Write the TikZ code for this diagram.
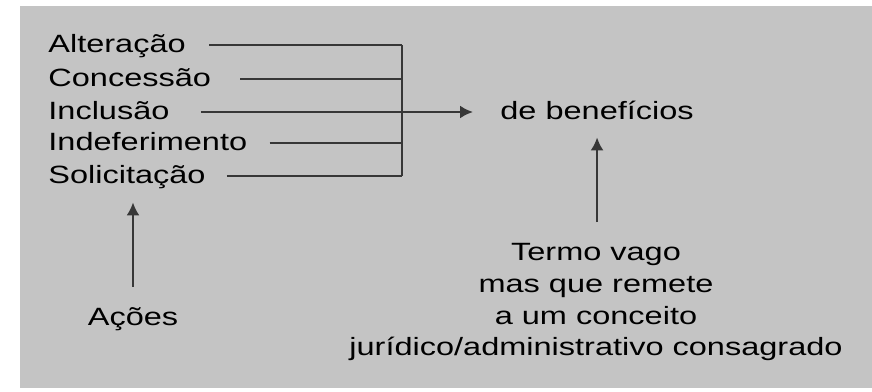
\documentclass[tikz,border=0pt]{standalone}
\usepackage{fontspec}
\setmainfont[FakeStretch=1.3]{Liberation Sans}
\usetikzlibrary{positioning,arrows.meta}
\tikzstyle{diagram} = [x = .5pt, y = -.5pt]
\definecolor{panelColor}{RGB}{196,196,196}
\definecolor{lineColor}{RGB}{55,55,55}
\tikzstyle{wordStyle} = [font=\fontsize{12.5}{15.85}\selectfont, inner sep=0pt, text height=7pt, text depth=0pt]
\tikzstyle{actionStyle} = [wordStyle, anchor=west]
\tikzstyle{noteStyle} = [font=\fontsize{12.5}{15.85}\selectfont, inner sep=0pt, align=center, anchor=north]
\tikzstyle{linkLine} = [color=lineColor, line width=1.1pt]
\tikzstyle{linkArrow} = [linkLine, -{Latex[length=6.5pt,width=6.5pt]}]
\newcommand{\actionLink}[2]{\draw [linkLine, shorten <=#2] (#1.east) -- (#1 -| bar);}

\begin{document}
\begin{tikzpicture}[diagram]
  \useasboundingbox (0,0) rectangle (872,391);
  \fill [panelColor] (20,6) rectangle (872,388);
  % actions
  \node [actionStyle] (alt) at (48,45) {Alteração};
  \node [actionStyle] (con) at (48,79) {Concessão};
  \node [actionStyle] (inc) at (48,112) {Inclusão};
  \node [actionStyle] (ind) at (48,143) {Indeferimento};
  \node [actionStyle] (sol) at (48,176) {Solicitação};
  \coordinate (bar) at (402,0);
  \node [actionStyle] (ben) at (500,112) {de benefícios};
  \node [wordStyle] (aco) at (133,318) {Ações};
  \node [noteStyle] (note) at (596,243) {Termo vago\\mas que remete\\a um conceito\\jurídico/administrativo consagrado};
  % links to the bar
  \actionLink{alt}{11.5pt}
  \actionLink{con}{14.5pt}
  \actionLink{ind}{11pt}
  \actionLink{sol}{10.5pt}
  \draw [linkLine] (alt -| bar) -- (sol -| bar);
  \draw [linkArrow, shorten <=15.5pt, shorten >=13.5pt] (inc.east) -- (ben.west);
  % pointers
  \draw [linkArrow, shorten <=12pt, shorten >=9.5pt] (aco) -- (aco |- sol.south);
  \draw [linkArrow, shorten <=10.5pt, shorten >=9pt] (ben.south |- note.north) -- (ben.south);
\end{tikzpicture}
\end{document}
